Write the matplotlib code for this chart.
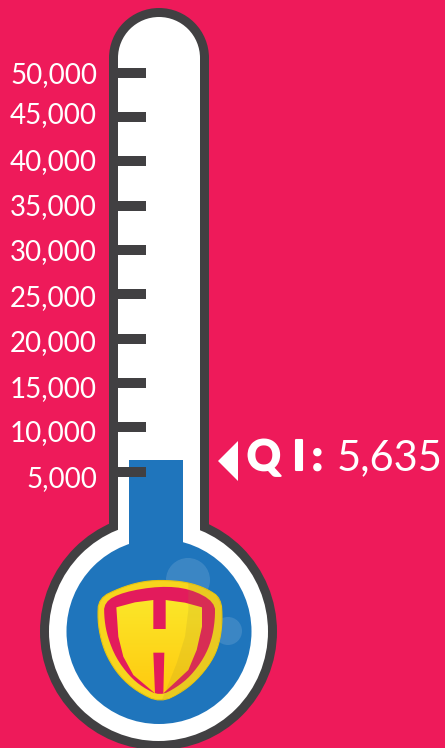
import numpy as np
import matplotlib.pyplot as plt
import matplotlib.patheffects as pe
from matplotlib.patches import Circle, Rectangle, Polygon

plt.rcParams['font.family'] = ['Lato', 'DejaVu Sans']

# gauge values
tick_values = [50000, 45000, 40000, 35000, 30000, 25000, 20000, 15000, 10000, 5000]
tick_labels = ['50,000', '45,000', '40,000', '35,000', '30,000', '25,000', '20,000', '15,000', '10,000', '5,000']
# level of the blue column read against the gauge ticks (the printed total sits lower)
fill_level = 6324
qi_label = 'QI:'
qi_value = '5,635'

# small nudges for the labels, in pixels downwards
label_nudge = [2, -2, 1, 1, 2, 4, 4, 6, 6, 7]

BG = '#ee1a5a'
DARK = '#414042'
BLUE = '#1f75bc'

fig = plt.figure(figsize=(4.45, 7.48), dpi=100, facecolor=BG)

# back axes in pixels for the glass, front axes in gauge values
px = fig.add_axes([0, 0, 1, 1])
px.set_xlim(0, 445)
px.set_ylim(748, 0)
px.axis('off')

ax = fig.add_axes([0, 0, 1, 1], zorder=2)
ax.set_xlim(0, 445)
ax.set_ylim(-26163, 58214)
ax.axis('off')

# glass outline, dark first and white on top
px.add_patch(Circle((158.5, 631.5), 118.5, color=DARK, lw=0))
px.add_patch(Circle((159, 58), 50, color=DARK, lw=0))
px.add_patch(Rectangle((109, 58), 100, 520, color=DARK, lw=0))
px.add_patch(Circle((158.5, 631.5), 109.5, color='white', lw=0))
px.add_patch(Circle((159, 58), 41, color='white', lw=0))
px.add_patch(Rectangle((118, 58), 82, 530, color='white', lw=0))

# liquid
px.add_patch(Circle((159, 631.5), 92.5, color=BLUE, lw=0))
ax.bar(156, fill_level - (-5000), bottom=-5000, width=54, color=BLUE, lw=0, zorder=1)
ax.hlines(tick_values, 118, 146, color=DARK, lw=7.2, zorder=2)

# bubbles
top = fig.add_axes([0, 0, 1, 1], zorder=3)
top.set_xlim(0, 445)
top.set_ylim(748, 0)
top.axis('off')
top.add_patch(Circle((188, 580), 22, color='white', alpha=0.13, lw=0))
top.add_patch(Circle((228, 631), 14, color='white', alpha=0.13, lw=0))


def zp(pts):
    return [(20 + x / 3, 430 + y / 3) for x, y in pts]


def soften(pts, n=2):
    # corner cutting so the shield edge is not so angular
    p = np.array(pts, dtype=float)
    for _ in range(n):
        q = np.roll(p, -1, axis=0)
        p = np.column_stack([0.75 * p + 0.25 * q, 0.25 * p + 0.75 * q]).reshape(-1, 2)
    return p


# shield
outer = zp([(236, 505), (300, 474), (360, 456), (420, 450), (500, 456), (560, 476), (603, 505),
            (607, 570), (600, 630), (582, 682), (542, 738), (490, 784), (421, 818),
            (350, 784), (298, 738), (262, 682), (243, 630), (233, 570)])
top.add_patch(Polygon(soften(outer), closed=True, fc='#f7d51d', ec='#e8c40f', lw=0.8))

inner = zp([(252, 516), (310, 486), (420, 468), (510, 476), (585, 516), (585, 570), (575, 630),
            (552, 684), (512, 738), (470, 772), (420, 798), (368, 772), (328, 738),
            (288, 684), (263, 622), (253, 570)])
top.add_patch(Polygon(soften(inner), closed=True, fc='#e31b5c', lw=0))

h_pts = zp([(289, 532), (345, 517), (400, 510), (400, 597), (437, 597), (437, 510), (495, 518),
            (546, 532), (546, 590), (530, 660), (505, 720), (430, 790), (433, 668), (400, 668),
            (405, 790), (340, 735), (310, 680), (295, 620)])
h_patch = Polygon(h_pts, closed=True, fc='none', lw=0)
top.add_patch(h_patch)
grad = np.linspace(0, 1, 100).reshape(-1, 1)
top_col = np.array([251, 233, 43]) / 255
bot_col = np.array([255, 200, 14]) / 255
img = top_col + (bot_col - top_col) * grad[..., None]
im = top.imshow(img, extent=(100, 225, 700, 590), aspect='auto', zorder=2)
im.set_clip_path(h_patch)
top.set_xlim(0, 445)
top.set_ylim(748, 0)

# shaded right part of the shield
shade = zp([(505, 458), (505, 540), (495, 620), (470, 700), (425, 812), (490, 782), (540, 736),
            (580, 680), (597, 630), (605, 570), (601, 508), (560, 478)])
top.add_patch(Polygon(shade, closed=True, fc='#a09030', alpha=0.16, lw=0, zorder=3))

# labels on the gauge
for v, lab, dy in zip(tick_values, tick_labels, label_nudge):
    ax.annotate(lab, (97, v), xytext=(0, -dy * 0.72), textcoords='offset points', ha='right', va='center',
                color='white', fontsize=20, zorder=4, annotation_clip=False)

# pointer and reading
px.add_patch(Polygon([(238, 441), (238, 481), (218, 461)], closed=True, color='white', lw=0))
heavy = [pe.withStroke(linewidth=1.5, foreground='white')]
for ch, x in zip(qi_label, [247, 293, 312]):
    top.text(x, 458, ch, color='white', fontsize=30, fontweight='bold', ha='left', va='center', path_effects=heavy)
top.text(443, 458, qi_value, color='white', fontsize=30, ha='right', va='center')

fig.savefig('out.png', dpi=100, facecolor=BG)
